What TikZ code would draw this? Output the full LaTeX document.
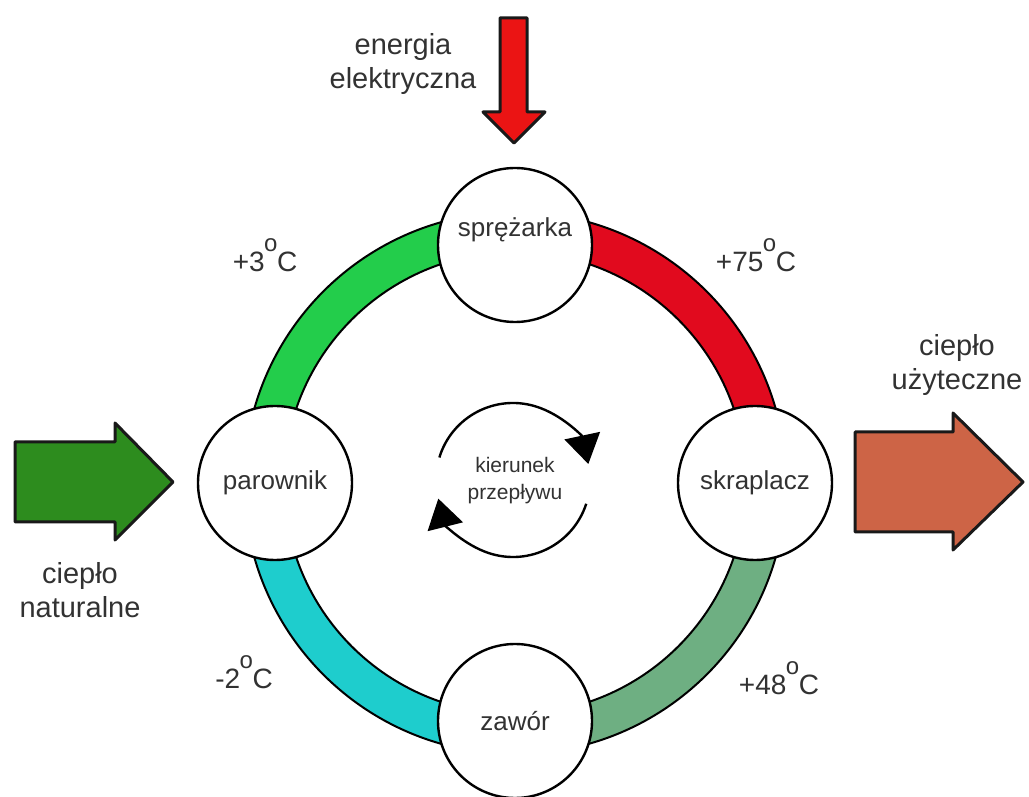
\documentclass[tikz,border=0pt]{standalone}
\usepackage{fontspec}
\setmainfont{Liberation Sans}
\usetikzlibrary{arrows.meta}
\definecolor{cred}{RGB}{225,10,30}
\definecolor{cgreen}{RGB}{35,205,75}
\definecolor{ccyan}{RGB}{30,205,205}
\definecolor{cgg}{RGB}{110,175,130}
\definecolor{cleft}{RGB}{45,140,30}
\definecolor{cright}{RGB}{205,100,70}
\definecolor{cdown}{RGB}{235,20,20}
\definecolor{ctext}{RGB}{50,50,50}
\newcommand\dego{\kern-0.5pt\raisebox{0.72em}{\fontsize{24}{24}\selectfont o}\kern-0.5pt}
\begin{document}
\begin{tikzpicture}[x=1pt,y=1pt,
  band/.style={draw=black,line width=2pt,line join=round},
  circ/.style={circle,draw=black,line width=2.4pt,fill=white,minimum size=154pt,inner sep=0pt,text=ctext,font=\fontsize{26}{30}\selectfont},
  nlab/.style={text=ctext,font=\fontsize{26}{30}\selectfont,inner sep=0pt},
  temp/.style={text=ctext,font=\fontsize{28}{32}\selectfont,inner sep=0pt},
  big/.style={text=ctext,font=\fontsize{29}{34}\selectfont,align=center,inner sep=0pt},
  blk/.style={draw=black!90,line width=3pt,line join=round},
  rot/.style={draw=black,line width=2.4pt,-{Triangle[length=29pt,width=36pt]}}]
\useasboundingbox (0,0) rectangle (1029,796);
\coordinate (C) at (515,313);
% ring bands
\foreach \a/\col in {0/cred,90/cgreen,180/ccyan,270/cgg}{
  \draw[band,fill=\col] ([shift={(\a:271)}]C) arc[start angle=\a, delta angle=90, radius=271pt]
    -- ([shift={(\a+90:231)}]C) arc[start angle=\a+90, delta angle=-90, radius=231pt] -- cycle;
}
% component circles
\node[circ] (spr) at (515,551) {};
\node[nlab] (sprl) at (515,566) {sprężarka};
\node[circ] (zaw) at (515,75) {zawór};
\node[circ] (par) at (275,313) {\raisebox{4pt}{parownik}};
\node[circ] (skr) at (755,313) {\raisebox{4pt}{skraplacz}};
% temperatures
\node[temp] (t1) at (265,541) {+3\dego C};
\node[temp] (t2) at (756,541) {+75\dego C};
\node[temp] (t3) at (244,124) {-2\dego C};
\node[temp] (t4) at (779,118) {+48\dego C};
% block arrows
\draw[blk,fill=cleft] (15,354) -- (115,354) -- (115,373) -- (173,314) -- (115,256) -- (115,274) -- (15,274) -- cycle;
\draw[blk,fill=cright] (855,364) -- (953,364) -- (953,383) -- (1023,314) -- (953,246) -- (953,264) -- (855,264) -- cycle;
\draw[blk,fill=cdown] (500,778) -- (527,778) -- (527,684) -- (545,684) -- (514,653) -- (483,684) -- (500,684) -- cycle;
% outer texts
\node[big] (en) at (403,732) {energia\\elektryczna};
\node[big] (cn) at (80,206) {ciepło\\naturalne};
\node[big] (cu) at (957,431) {ciepło\\użyteczne};
% flow direction
\coordinate (R) at (513,316);
\draw[rot] ([shift={(163:77)}]R) arc[start angle=163, end angle=12, radius=77pt];
\draw[rot] ([shift={(-18:77)}]R) arc[start angle=-18, end angle=-166, radius=77pt];
\node[text=ctext,font=\fontsize{21}{27}\selectfont,align=center,inner sep=0pt] (kp) at (515,315) {kierunek\\przepływu};
\end{tikzpicture}
\end{document}
